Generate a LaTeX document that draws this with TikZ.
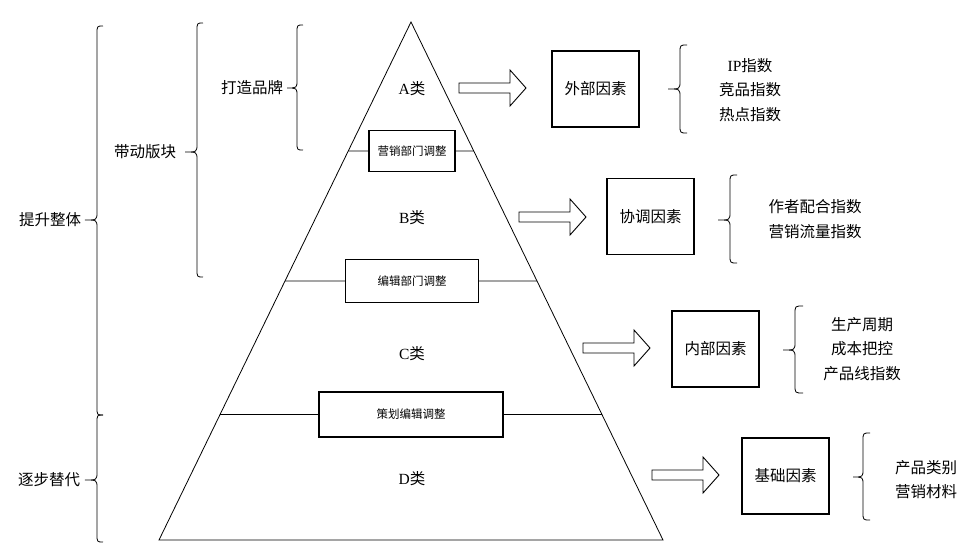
\documentclass[tikz,border=0pt]{standalone}
\usepackage{fontspec}
\setmainfont{Noto Sans CJK SC}
\newfontfamily\lat{Liberation Serif}
\begin{document}
\begin{tikzpicture}[x=1pt,y=-1pt,
  tri/.style={line width=0.8pt},
  thinline/.style={line width=0.7pt},
  smallbox/.style={draw,line width=1.1pt,fill=white,inner sep=0pt,font=\fontsize{11.5}{13}\selectfont},
  factor/.style={draw,line width=1.2pt,inner sep=0pt,minimum width=87pt,minimum height=76pt,font=\fontsize{15.5}{18}\selectfont},
  lbl/.style={inner sep=0pt,font=\fontsize{15.5}{18}\selectfont},
  lst/.style={inner sep=0pt,align=center,font=\fontsize{15.5}{24.5}\selectfont},
  bracestyle/.style={line width=0.8pt},
  blockarrow/.style={line width=0.9pt,line join=miter}]
\newcommand\mybrace[6]{%
  \draw[bracestyle] (#3,#4) .. controls (#2,#4) .. (#2,#4+8) -- (#2,#5-8)
    .. controls (#2,#5) .. (#1,#5) .. controls (#2,#5) .. (#2,#5+8) -- (#2,#6-8)
    .. controls (#2,#6) .. (#3,#6);}
\newcommand\myarrow[1]{%
  \draw[blockarrow,shift={(#1)}] (-67,-5) -- (-16,-5) -- (-16,-18) -- (0,0) -- (-16,18) -- (-16,5) -- (-67,5) -- cycle;}
\useasboundingbox (0,0) rectangle (971,559);
% pyramid
\coordinate (apex) at (411,22);
\coordinate (bl) at (159,540);
\coordinate (br) at (663,540);
\draw[tri] (bl) -- (apex) -- (br) -- cycle;
% level boxes
\node[smallbox,minimum width=86pt,minimum height=41pt] (b1) at (412,151) {营销部门调整};
\node[smallbox,minimum width=133pt,minimum height=43pt] (b2) at (412,281) {编辑部门调整};
\node[smallbox,minimum width=184pt,minimum height=45pt] (b3) at (411,414.5) {策划编辑调整};
\path (intersection of apex--bl and b1.west--b1.east) coordinate (l1);
\path (intersection of apex--br and b1.west--b1.east) coordinate (r1);
\path (intersection of apex--bl and b2.west--b2.east) coordinate (l2);
\path (intersection of apex--br and b2.west--b2.east) coordinate (r2);
\path (intersection of apex--bl and b3.west--b3.east) coordinate (l3);
\path (intersection of apex--br and b3.west--b3.east) coordinate (r3);
\draw[thinline] (l1) -- (b1.west) (b1.east) -- (r1);
\draw[thinline] (l2) -- (b2.west) (b2.east) -- (r2);
\draw[thinline] (l3) -- (b3.west) (b3.east) -- (r3);
% class labels
\node[lbl] (ca) at (412,89) {{\lat A}类};
\node[lbl] (cb) at (412,218) {{\lat B}类};
\node[lbl] (cc) at (412,354) {{\lat C}类};
\node[lbl] (cd) at (412,479) {{\lat D}类};
% block arrows
\coordinate (t1) at (526,88);
\coordinate (t2) at (586,217);
\coordinate (t3) at (650,348);
\coordinate (t4) at (719,475);
\myarrow{t1}
\myarrow{t2}
\myarrow{t3}
\myarrow{t4}
% factor boxes
\node[factor] (f1) at (595.5,89) {外部因素};
\node[factor] (f2) at (650.5,216.5) {协调因素};
\node[factor] (f3) at (715.5,349) {内部因素};
\node[factor] (f4) at (785.5,476) {基础因素};
% right braces and lists
\mybrace{668}{680}{687}{45}{89}{133}
\mybrace{718}{730}{737}{175}{220}{263}
\mybrace{783}{795}{803}{306}{350}{393}
\mybrace{853}{863}{870}{433}{477}{520}
\node[lst] (i1) at (750,90) {{\lat IP}指数\\竞品指数\\热点指数};
\node[lst] (i2) at (815,219) {作者配合指数\\营销流量指数};
\node[lst] (i3) at (862,349) {生产周期\\成本把控\\产品线指数};
\node[lst] (i4) at (926,479.5) {产品类别\\营销材料};
% left braces and labels
\mybrace{287}{297}{303}{25}{88}{150}
\mybrace{185}{197}{203}{23}{152}{277}
\mybrace{85}{97}{103}{26}{220}{415}
\mybrace{85}{97}{103}{415}{480}{542}
\node[lbl] (g1) at (252,88) {打造品牌};
\node[lbl] (g2) at (145,152) {带动版块};
\node[lbl] (g3) at (50,220) {提升整体};
\node[lbl] (g4) at (49,480) {逐步替代};
\end{tikzpicture}
\end{document}
